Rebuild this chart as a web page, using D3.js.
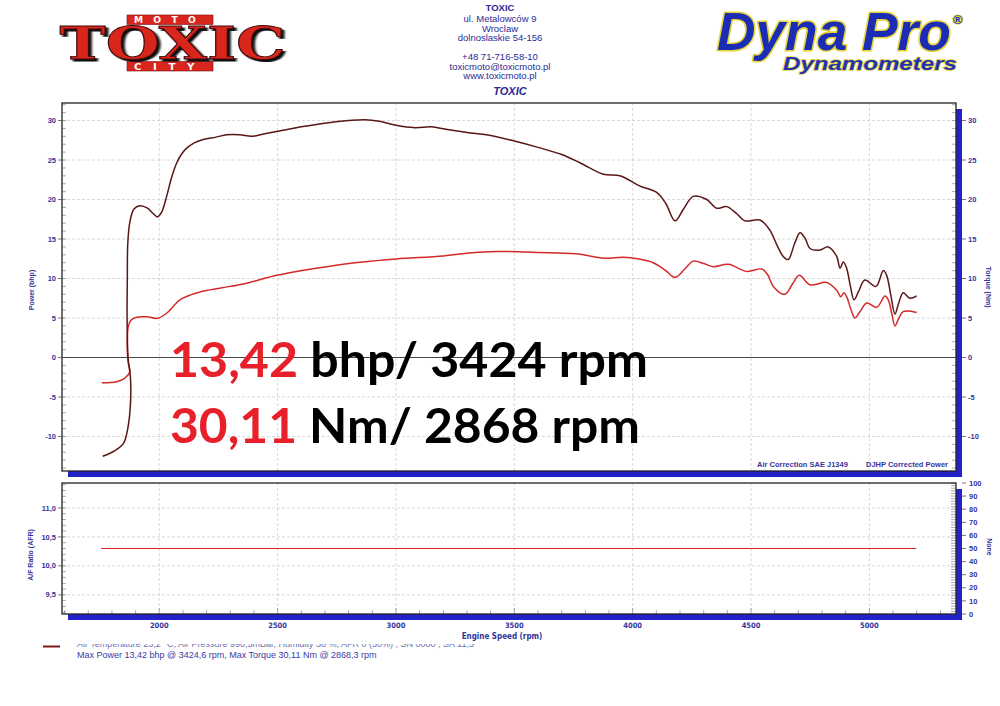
<!DOCTYPE html>
<html><head><meta charset="utf-8">
<script src="https://cdn.jsdelivr.net/npm/d3@7"></script>
<style>body{margin:0;background:#fff} svg{display:block}</style>
</head><body>
<svg id="c" width="1000" height="706"></svg>
<script>
// ---------- DATA ----------
const torqueRpm = [1761,1806,1848,1868,1879,1878,1868,1864,1865,1867,1876,1893,1918,1950,1975,1992,2010,2031,2052,2073,2095,2116,2150,2186,2240,2285,2340,2390,2440,2496,2600,2707,2800,2868,2930,3000,3080,3150,3210,3300,3400,3500,3600,3700,3777,3876,3946,4031,4101,4140,4179,4215,4256,4313,4355,4397,4440,4474,4538,4580,4610,4636,4657,4685,4707,4730,4749,4791,4826,4862,4876,4890,4904,4920,4935,4955,4981,5028,5059,5073,5090,5108,5125,5143,5171,5200];
const torqueNm  = [-12.5,-11.9,-10.9,-8.8,-5.4,-2.5,0.0,5.0,10.0,14.5,17.2,18.8,19.2,18.9,18.2,17.8,18.4,20.4,22.8,24.6,25.8,26.5,27.2,27.6,27.9,28.2,28.2,28.0,28.3,28.6,29.2,29.7,30.0,30.11,29.9,29.4,29.1,29.2,28.9,28.5,28.1,27.4,26.6,25.7,24.66,23.2,23.0,21.7,20.9,19.5,17.3,18.8,20.4,20.0,18.9,19.1,18.2,17.3,17.4,16.1,14.2,12.8,12.4,14.5,15.8,15.0,13.8,13.6,14.0,12.8,11.3,12.1,11.3,9.0,7.3,8.4,9.8,9.0,11.0,10.4,8.0,5.5,7.0,8.2,7.5,7.8];
const powerRpm = [1757,1820,1855,1876,1873,1869,1865,1869,1880,1904,1947,1992,2031,2060,2087,2130,2172,2260,2355,2496,2600,2707,2848,3000,3200,3300,3424,3550,3650,3777,3876,3960,4020,4087,4140,4179,4220,4256,4300,4341,4404,4482,4545,4570,4594,4643,4675,4704,4749,4820,4862,4879,4893,4904,4920,4939,4960,4989,5031,5066,5080,5095,5108,5125,5143,5200];
const powerBhp = [-3.2,-3.06,-2.6,-1.8,-1.2,-0.7,2.2,3.9,4.7,5.1,5.16,4.96,5.6,6.5,7.3,7.9,8.3,8.8,9.3,10.4,11.0,11.5,12.05,12.47,12.85,13.2,13.42,13.35,13.25,13.06,12.56,12.68,12.5,12.0,11.0,10.15,11.2,12.2,11.9,11.5,11.8,10.9,11.2,10.5,9.0,8.0,9.3,10.4,9.2,9.5,8.5,7.7,8.2,7.7,6.3,5.0,5.8,6.9,6.35,7.8,7.3,5.5,4.0,5.0,5.8,5.7];
const afrRpm = [1754, 5197];
const afrNone = [50, 50];
const xTicks = [2000,2500,3000,3500,4000,4500,5000];
const upperTicks = [-10,-5,0,5,10,15,20,25,30];
const afrTicks = [9.5,10.0,10.5,11.0];
const noneTicks = [0,10,20,30,40,50,60,70,80,90,100];
const headerLines = ["ul. Metalowców 9","Wroclaw","dolnoslaskie 54-156","","+48 71-716-58-10","toxicmoto@toxicmoto.pl","www.toxicmoto.pl"];

// ---------- LAYOUT ----------
const L=62, R=956, T1=103, B1=471, T2=483, B2=614, SH=6;
const navy="#34349c", blue="#2222c8";
const svg=d3.select("#c");
const x=d3.scaleLinear().domain([1589,5366]).range([L,R]);
const yU=d3.scaleLinear().domain([-14.37,32.22]).range([B1,T1]);
const yA=d3.scaleLinear().domain([9.17,11.43]).range([B2,T2]);
const yN=d3.scaleLinear().domain([0,100]).range([B2,T2]);
const lab="'Liberation Sans',Arial,sans-serif";
const narrow="'Liberation Sans Narrow','DejaVu Sans Condensed','Liberation Sans',sans-serif";

function fitX(node,x0,w){const bb=node.getBBox();const s=w/bb.width;d3.select(node).attr("transform",`translate(${x0},0) scale(${s},1) translate(${-bb.x},0)`);}

// ---------- HEADER: TOXIC logo ----------
const red="#d8261e";
const defs=svg.append("defs");
const f=defs.append("filter").attr("id","ds").attr("x","-10%").attr("y","-20%").attr("width","130%").attr("height","150%");
f.append("feDropShadow").attr("dx",2).attr("dy",2).attr("stdDeviation",0.6).attr("flood-color","#111").attr("flood-opacity",1);
const lg=svg.append("g");
[[127,15,"MOTO"],[127,61.5,"CITY"]].forEach(([bx,by,t])=>{
  lg.append("rect").attr("x",bx).attr("y",by).attr("width",86).attr("height",9.5).attr("fill",red).attr("stroke","#7a1010").attr("stroke-width",0.6);
  const tt=lg.append("text").attr("x",0).attr("y",by+8.2).attr("font-family","'DejaVu Sans',sans-serif").attr("font-weight","bold").attr("font-size",8).attr("fill","#fff").attr("letter-spacing",9).text(t);
  fitX(tt.node(),bx+7,72);
});
const tx=lg.append("text").attr("y",59).attr("font-family","'DejaVu Serif',serif").attr("font-weight","bold").attr("font-size",45).attr("fill",red).attr("stroke","#3a0a0a").attr("stroke-width",0.9).attr("filter","url(#ds)").text("TOXIC");
fitX(tx.node(),59.5,226);

// ---------- HEADER: centre address ----------
const hc="#2a2a96";
svg.append("text").attr("x",500).attr("y",10.5).attr("text-anchor","middle").attr("font-family",lab).attr("font-weight","bold").attr("font-size",9.5).attr("fill",hc).text("TOXIC");
const hy=[22,31.5,41,0,60,70,79];
headerLines.forEach((t,i)=>{ if(t) svg.append("text").attr("x",500).attr("y",hy[i]).attr("text-anchor","middle").attr("font-family",lab).attr("font-size",9.5).attr("fill",hc).text(t);});
svg.append("text").attr("x",510).attr("y",95).attr("text-anchor","middle").attr("font-family",lab).attr("font-weight","bold").attr("font-style","italic").attr("font-size",11).attr("fill",hc).text("TOXIC");

// ---------- HEADER: Dyna Pro ----------
const dp=svg.append("text").attr("y",50).attr("font-family",lab).attr("font-weight","bold").attr("font-style","italic").attr("font-size",53)
  .attr("fill","#1b2db5").attr("stroke","#e6d43a").attr("stroke-width",3.2).attr("paint-order","stroke").attr("stroke-linejoin","round").text("Dyna Pro");
fitX(dp.node(),717,234);
svg.append("text").attr("x",953).attr("y",24).attr("font-family",lab).attr("font-weight","bold").attr("font-size",13).attr("fill","#1b2db5").attr("stroke","#e6d43a").attr("stroke-width",1.5).attr("paint-order","stroke").text("®");
const dm=svg.append("text").attr("y",70).attr("font-family",lab).attr("font-weight","bold").attr("font-style","italic").attr("font-size",18)
  .attr("fill","#2233b0").attr("stroke","#e6d43a").attr("stroke-width",1.5).attr("paint-order","stroke").text("Dynamometers");
fitX(dm.node(),783,174);

// ---------- PLOT FRAMES ----------
function frame(t,b){
  svg.append("rect").attr("x",L+SH).attr("y",t+SH).attr("width",R-L).attr("height",b-t).attr("fill",blue);
  svg.append("rect").attr("x",L).attr("y",t).attr("width",R-L).attr("height",b-t).attr("fill","#fff");
}
frame(T1,B1); frame(T2,B2);

const grid=svg.append("g").attr("stroke","#cfcfcf").attr("stroke-width",0.8).attr("stroke-dasharray","3,2");
xTicks.forEach(v=>{
  grid.append("line").attr("x1",x(v)).attr("x2",x(v)).attr("y1",T1).attr("y2",B1);
  grid.append("line").attr("x1",x(v)).attr("x2",x(v)).attr("y1",T2).attr("y2",B2);
});
upperTicks.filter(v=>v!==0).forEach(v=>grid.append("line").attr("x1",L).attr("x2",R).attr("y1",yU(v)).attr("y2",yU(v)));
afrTicks.forEach(v=>grid.append("line").attr("x1",L).attr("x2",R).attr("y1",yA(v)).attr("y2",yA(v)));

// minor ticks
const tk=svg.append("g").attr("stroke","#888").attr("stroke-width",0.7);
d3.range(-14,33).forEach(v=>{
  tk.append("line").attr("x1",L).attr("x2",L+4).attr("y1",yU(v)).attr("y2",yU(v));
  tk.append("line").attr("x1",R-4).attr("x2",R).attr("y1",yU(v)).attr("y2",yU(v));
});
d3.range(92,115).forEach(i=>{const v=i/10; tk.append("line").attr("x1",L).attr("x2",L+4).attr("y1",yA(v)).attr("y2",yA(v));});
d3.range(0,101,2).forEach(v=>tk.append("line").attr("x1",R-5).attr("x2",R).attr("y1",yN(v)).attr("y2",yN(v)));
d3.range(1600,5400,100).forEach(v=>tk.append("line").attr("x1",x(v)).attr("x2",x(v)).attr("y1",B2).attr("y2",B2-(v%500===0?6:4)));

// borders
function border(t,b){
  svg.append("rect").attr("x",L).attr("y",t).attr("width",R-L).attr("height",b-t).attr("fill","none").attr("stroke","#222").attr("stroke-width",1.3);
}
border(T1,B1); border(T2,B2);

// zero line
svg.append("line").attr("x1",L).attr("x2",R).attr("y1",yU(0)).attr("y2",yU(0)).attr("stroke","#444").attr("stroke-width",1);

// ---------- AXES LABELS ----------
const ax=svg.append("g").attr("font-family",lab).attr("font-weight","bold").attr("font-size",7.5).attr("fill",navy);
upperTicks.forEach(v=>{
  ax.append("text").attr("x",L-6).attr("y",yU(v)+2.6).attr("text-anchor","end").text(v);
  ax.append("text").attr("x",R+SH+6).attr("y",yU(v)+2.6).text(v);
  svg.append("line").attr("x1",L-4).attr("x2",L).attr("y1",yU(v)).attr("y2",yU(v)).attr("stroke","#555").attr("stroke-width",0.8);
  svg.append("line").attr("x1",R+SH).attr("x2",R+SH+4).attr("y1",yU(v)).attr("y2",yU(v)).attr("stroke","#555").attr("stroke-width",0.8);
});
const fmtC=v=>d3.format(".1f")(v).replace(".",",");
afrTicks.forEach(v=>{
  ax.append("text").attr("x",L-6).attr("y",yA(v)+2.6).attr("text-anchor","end").text(fmtC(v));
  svg.append("line").attr("x1",L-4).attr("x2",L).attr("y1",yA(v)).attr("y2",yA(v)).attr("stroke","#555").attr("stroke-width",0.8);
});
noneTicks.forEach(v=>{
  ax.append("text").attr("x",R+SH+7).attr("y",yN(v)+2.6).text(v);
  svg.append("line").attr("x1",R+SH).attr("x2",R+SH+4).attr("y1",yN(v)).attr("y2",yN(v)).attr("stroke","#555").attr("stroke-width",0.8);
});
const axx=svg.append("g").attr("font-family",narrow).attr("font-weight","bold").attr("font-size",7.5).attr("fill",navy);
xTicks.forEach(v=>axx.append("text").attr("x",x(v)).attr("y",628).attr("text-anchor","middle").text(v));
axx.append("text").attr("x",502).attr("y",639).attr("text-anchor","middle").attr("font-size",8).text("Engine Speed (rpm)");

const ttl=svg.append("g").attr("font-family",lab).attr("font-weight","bold").attr("font-size",7).attr("fill",navy).attr("text-anchor","middle");
ttl.append("text").attr("transform","translate(34,290) rotate(-90)").text("Power (bhp)");
ttl.append("text").attr("transform","translate(986,287) rotate(90)").text("Torque (Nm)");
ttl.append("text").attr("transform","translate(33,555) rotate(-90)").text("A/F Ratio (AFR)");
ttl.append("text").attr("transform","translate(987,547) rotate(90)").text("None");

ax.append("text").attr("x",757).attr("y",467).text("Air Correction SAE J1349");
ax.append("text").attr("x",866).attr("y",467).text("DJHP Corrected Power");

// ---------- CURVES ----------
svg.append("clipPath").attr("id","cu").append("rect").attr("x",L).attr("y",T1).attr("width",R-L).attr("height",B1-T1);
const line=d3.line().x(d=>x(d[0])).curve(d3.curveCatmullRom.alpha(0.5));
const cg=svg.append("g").attr("clip-path","url(#cu)").attr("fill","none").attr("stroke-width",1.5).attr("stroke-linejoin","round");
cg.append("path").attr("d",line.y(d=>yU(d[1]))(d3.zip(powerRpm,powerBhp))).attr("stroke","#d42a2a");
cg.append("path").attr("d",line.y(d=>yU(d[1]))(d3.zip(torqueRpm,torqueNm))).attr("stroke","#5a1616");
svg.append("path").attr("d",d3.line().x(d=>x(d[0])).y(d=>yN(d[1]))(d3.zip(afrRpm,afrNone))).attr("stroke","#e02020").attr("stroke-width",1.2).attr("fill","none");

// ---------- BIG ANNOTATION ----------
function bigLine(y,num,rest,w){
  const t=svg.append("text").attr("y",y).attr("font-family","Lato,'Open Sans',sans-serif").attr("font-weight","bold").attr("font-size",47);
  t.append("tspan").attr("fill","#e8202a").text(num);
  t.append("tspan").attr("fill","#000").text(rest);
  fitX(t.node(),170,w);
}
bigLine(377,"13,42"," bhp/ 3424 rpm",478);
bigLine(443,"30,11"," Nm/ 2868 rpm",470);

// ---------- LEGEND / FOOTER ----------
svg.append("line").attr("x1",43).attr("x2",60).attr("y1",646.5).attr("y2",646.5).attr("stroke","#7a1a1a").attr("stroke-width",2);
svg.append("clipPath").attr("id","cl").append("rect").attr("x",0).attr("y",644).attr("width",1000).attr("height",10);
svg.append("text").attr("clip-path","url(#cl)").attr("x",77).attr("y",647).attr("font-family",lab).attr("font-size",9).attr("fill","#7070b0")
  .text("Air Temperature 23,2 °C, Air Pressure 990,5mBar, Humidity 38 %, AFR 0 (50%) , SN 0000 , SA 11,5");
svg.append("text").attr("x",77).attr("y",657.5).attr("font-family",lab).attr("font-size",9).attr("fill","#3a3aa4")
  .text("Max Power 13,42 bhp @ 3424,6 rpm, Max Torque 30,11 Nm @ 2868,3 rpm");
</script>
</body></html>
